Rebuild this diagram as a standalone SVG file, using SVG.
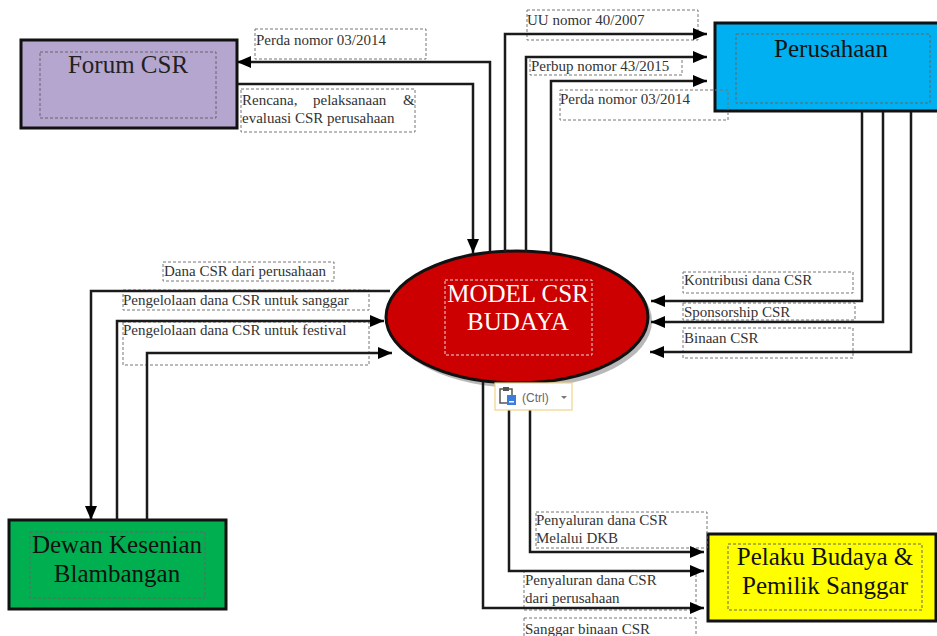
<svg xmlns="http://www.w3.org/2000/svg" width="937" height="636" viewBox="0 0 937 636">
<style>
.node{stroke:#111;stroke-width:3}
.inner{fill:none;stroke:#666;stroke-width:1;stroke-dasharray:3 2}
.lbox{fill:none;stroke:#777;stroke-width:1;stroke-dasharray:3 2}
.title{font-family:"Liberation Serif","Times New Roman",serif;font-size:25px;text-anchor:middle}
.lbl{font-family:"Liberation Serif","Times New Roman",serif;font-size:15px;fill:#333}
.conn{fill:none;stroke:#1a1a1a;stroke-width:2.5;marker-end:url(#arr)}
</style>
<defs>
<marker id="arr" markerUnits="userSpaceOnUse" markerWidth="14" markerHeight="12" refX="14" refY="6" orient="auto">
<path d="M0,0 L14,6 L0,12 z" fill="#000"/>
</marker>
</defs>
<rect width="937" height="636" fill="#fff"/>

<g id="forum-csr">
<rect class="node" x="21" y="40" width="216" height="88" fill="#B5A6D0"/>
<rect class="inner" x="40" y="52" width="176" height="66"/>
<text class="title" x="128" y="73" fill="#222">Forum CSR</text>
</g>

<g id="perusahaan">
<rect class="node" x="715" y="23" width="232" height="88" fill="#00B0F0"/>
<rect class="inner" x="736" y="34" width="194" height="69"/>
<text class="title" x="831" y="57" fill="#111">Perusahaan</text>
</g>

<g id="model-csr-budaya">
<ellipse cx="521" cy="321" rx="131" ry="67" fill="#888" opacity="0.6"/>
<ellipse class="node" cx="517" cy="317" rx="131" ry="66" fill="#CC0000"/>
<rect class="inner" x="445" y="280" width="147" height="75" style="stroke:#ddd"/>
<text class="title" x="518" y="302" fill="#fff">MODEL CSR</text>
<text class="title" x="518" y="330" fill="#fff">BUDAYA</text>
</g>

<g id="dewan-kesenian">
<rect class="node" x="9" y="520" width="217" height="89" fill="#00B050"/>
<rect class="inner" x="30" y="532" width="175" height="66"/>
<text class="title" x="117" y="553" fill="#111">Dewan Kesenian</text>
<text class="title" x="117" y="582" fill="#111">Blambangan</text>
</g>

<g id="pelaku-budaya">
<rect class="node" x="708" y="534" width="228" height="87" fill="#FFFF00"/>
<rect class="inner" x="728" y="544" width="194" height="66"/>
<text class="title" x="825" y="565" fill="#111">Pelaku Budaya &amp;</text>
<text class="title" x="825" y="594" fill="#111">Pemilik Sanggar</text>
</g>

<g id="labels">
<rect class="lbox" x="255" y="29" width="171" height="30"/>
<text class="lbl" x="256" y="45">Perda nomor 03/2014</text>
<rect class="lbox" x="241" y="89" width="174" height="43"/>
<text class="lbl" x="242" y="105">Rencana,</text>
<text class="lbl" x="313" y="105">pelaksanaan</text>
<text class="lbl" x="403" y="105">&amp;</text>
<text class="lbl" x="242" y="123">evaluasi CSR perusahaan</text>

<rect class="lbox" x="527" y="10" width="171" height="30"/>
<text class="lbl" x="527" y="25">UU nomor 40/2007</text>
<rect class="lbox" x="530" y="57" width="152" height="18"/>
<text class="lbl" x="531" y="71">Perbup nomor 43/2015</text>
<rect class="lbox" x="560" y="90" width="168" height="30"/>
<text class="lbl" x="560" y="104">Perda nomor 03/2014</text>

<rect class="lbox" x="683" y="272" width="170" height="21"/>
<text class="lbl" x="684" y="285">Kontribusi dana CSR</text>
<rect class="lbox" x="683" y="303" width="172" height="17"/>
<text class="lbl" x="684" y="317">Sponsorship CSR</text>
<rect class="lbox" x="683" y="328" width="170" height="30"/>
<text class="lbl" x="684" y="343">Binaan CSR</text>

<rect class="lbox" x="163" y="262" width="171" height="19"/>
<text class="lbl" x="164" y="276">Dana CSR dari perusahaan</text>
<rect class="lbox" x="123" y="290" width="246" height="20"/>
<text class="lbl" x="123" y="305">Pengelolaan dana CSR untuk sanggar</text>
<rect class="lbox" x="123" y="322" width="246" height="43"/>
<text class="lbl" x="123" y="335">Pengelolaan dana CSR untuk festival</text>

<rect class="lbox" x="536" y="512" width="171" height="36"/>
<text class="lbl" x="536" y="525">Penyaluran dana CSR</text>
<text class="lbl" x="536" y="543">Melalui DKB</text>
<rect class="lbox" x="524" y="571" width="172" height="39"/>
<text class="lbl" x="525" y="585">Penyaluran dana CSR</text>
<text class="lbl" x="525" y="603">dari perusahaan</text>
<rect class="lbox" x="524" y="618" width="172" height="22"/>
<text class="lbl" x="525" y="634">Sanggar binaan CSR</text>
</g>

<g id="connectors">
<path class="conn" d="M490,252 V62 H237"/>
<path class="conn" d="M237,84 H473 V253"/>
<path class="conn" d="M505,252 V34 H707"/>
<path class="conn" d="M526,252 V57 H707"/>
<path class="conn" d="M551,254 V81 H707"/>
<path class="conn" d="M862,112 V301 H651"/>
<path class="conn" d="M883,112 V322 H651"/>
<path class="conn" d="M911,112 V352 H650"/>
<path class="conn" d="M390,291 H91 V520"/>
<path class="conn" d="M117,520 V321 H384"/>
<path class="conn" d="M147,520 V353 H392"/>
<path class="conn" d="M530,410 V552 H704"/>
<path class="conn" d="M509,383 V571 H704"/>
<path class="conn" d="M483,382 V608 H704"/>
</g>

<g id="paste-options">
<rect x="495" y="383" width="77" height="27" fill="#fff" stroke="#F0D48A" stroke-width="1.2"/>
<rect x="500" y="389" width="12" height="14" fill="#fff" stroke="#555" stroke-width="1.5"/>
<rect x="503" y="387" width="6" height="4" fill="#555"/>
<rect x="507" y="395" width="9" height="10" fill="#3B7DDD"/>
<rect x="509" y="401" width="5" height="1.5" fill="#fff"/>
<text x="522" y="402" font-family="'Liberation Sans',Arial,sans-serif" font-size="12" fill="#666">(Ctrl)</text>
<path d="M561,396 L567,396 L564,399 z" fill="#777"/>
</g>
</svg>
